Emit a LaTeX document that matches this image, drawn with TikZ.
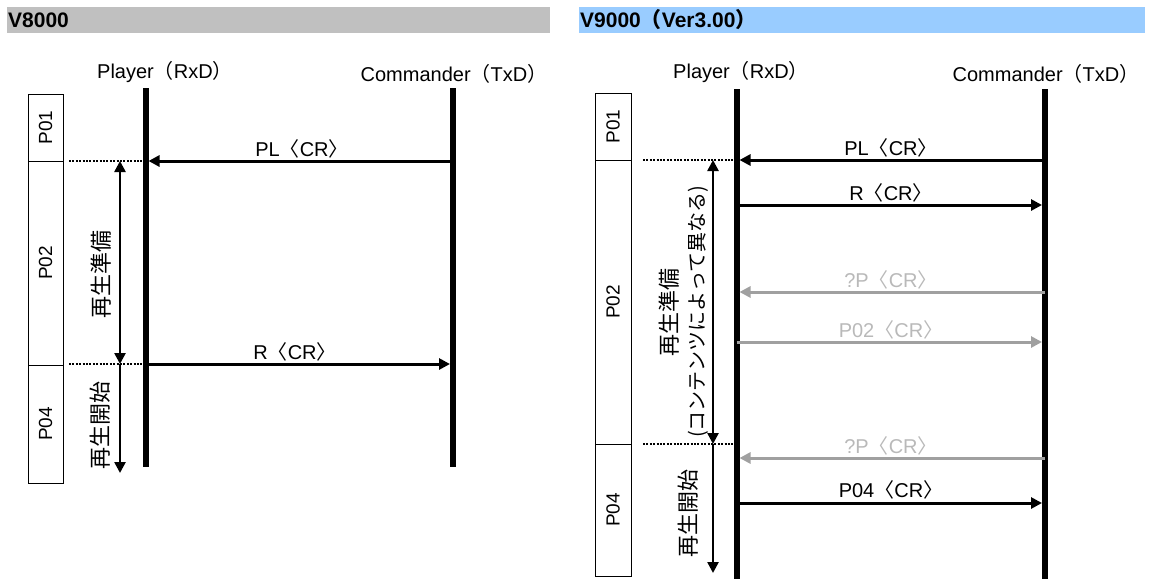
\documentclass[tikz,border=0pt]{standalone}
\usepackage{fontspec}
\setmainfont{Liberation Sans}
\newfontfamily\jp{Noto Sans CJK JP}
\usetikzlibrary{arrows.meta}
\definecolor{hdrgray}{RGB}{192,192,192}
\definecolor{hdrblue}{RGB}{153,204,255}
\definecolor{arrowgray}{RGB}{160,160,160}
\definecolor{textgray}{RGB}{185,185,185}
\newcommand\jlb{{\jp 〈}}
\newcommand\jrb{{\jp 〉}}
\newcommand\jlp{{\jp （}}
\newcommand\jrp{{\jp ）}}
\begin{document}
\begin{tikzpicture}[x=1pt,y=-1pt,
  life/.style={line width=6pt},
  msg/.style={line width=3pt,-{Triangle[length=11pt,width=11pt]}},
  gmsg/.style={msg,draw=arrowgray},
  lbl/.style={font=\fontsize{20}{22}\selectfont,anchor=base,inner sep=0pt},
  glbl/.style={lbl,text=textgray},
  actor/.style={font=\fontsize{20}{22}\selectfont,inner sep=0pt},
  phase/.style={draw,line width=1pt,rotate=90,minimum height=35pt,inner sep=0pt,font=\fontsize{19}{21}\selectfont},
  jlbl/.style={rotate=90,inner sep=0pt,align=center,font=\jp\fontsize{20}{27}\selectfont},
  dots/.style={line width=2pt,dash pattern=on 2pt off 1.4pt},
  spanarr/.style={line width=2.5pt,{Triangle[length=11pt,width=11pt]}-{Triangle[length=11pt,width=11pt]}},
  downarr/.style={line width=2.5pt,-{Triangle[length=11pt,width=11pt]}},
  hdr/.style={anchor=west,inner sep=0pt,font=\bfseries\fontsize{21}{23}\selectfont}
]
\useasboundingbox (0,0) rectangle (1150,579);

% ---------- headers ----------
\fill[hdrgray] (7,7) rectangle (550,33);
\node[hdr] (h1) at (8,20) {V8000};
\fill[hdrblue] (579,7) rectangle (1145,33);
\node[hdr] (h2) at (580,20) {V9000{\jp\bfseries （}Ver3.00{\jp\bfseries ）}};

% ================= LEFT (V8000) =================
\node[actor] (lpn) at (165,72) {Player\jlp RxD\jrp};
\node[actor] (lcn) at (454,74) {Commander\jlp TxD\jrp};
\coordinate (LPt) at (145.5,88);  \coordinate (LPb) at (145.5,467);
\coordinate (LCt) at (453,88);    \coordinate (LCb) at (453,467);
\draw[life] (LPt) -- (LPb);
\draw[life] (LCt) -- (LCb);

\node[phase,minimum width=67pt]  (lb1) at (45.5,127.5) {P01};
\node[phase,minimum width=204pt] (lb2) at (45.5,263) {P02};
\node[phase,minimum width=118pt] (lb4) at (45.5,424) {P04};

% messages
\coordinate (lm1a) at (453,161);   \coordinate (lm1b) at (148.5,161);
\draw[msg] (lm1a) -- (lm1b);
\node[lbl] (lm1t) at (302,156) {PL\jlb CR\jrb};
\coordinate (lm2a) at (145.5,364); \coordinate (lm2b) at (450,364);
\draw[msg] (lm2a) -- (lm2b);
\node[lbl] (lm2t) at (295,359) {R\jlb CR\jrb};

% dotted phase boundaries
\coordinate (ld1) at (69,161);  \coordinate (ld1e) at (142,161);
\coordinate (ld2) at (69,364);  \coordinate (ld2e) at (142,364);
\draw[dots] (ld1) -- (ld1e);
\draw[dots] (ld2) -- (ld2e);

% span arrows
\coordinate (ls1) at (120,161); \coordinate (ls2) at (120,364); \coordinate (ls3) at (120,473);
\draw[spanarr] (ls1) -- (ls2);
\draw[downarr] (ls2) -- (ls3);
\node[jlbl,font=\jp\fontsize{22}{27}\selectfont] (lj1) at (101,274) {再生準備};
\node[jlbl,font=\jp\fontsize{22}{27}\selectfont] (lj2) at (100,425) {再生開始};

% ================= RIGHT (V9000) =================
\node[actor] (rpn) at (741,72) {Player\jlp RxD\jrp};
\node[actor] (rcn) at (1046,74) {Commander\jlp TxD\jrp};
\coordinate (RPt) at (736.5,89);  \coordinate (RPb) at (736.5,579);
\coordinate (RCt) at (1045,89);   \coordinate (RCb) at (1045,579);
\draw[life] (RPt) -- (RPb);
\draw[life] (RCt) -- (RCb);

\node[phase,minimum width=67pt,minimum height=36pt]  (rb1) at (613,126.5) {P01};
\node[phase,minimum width=284pt,minimum height=36pt] (rb2) at (613,302) {P02};
\node[phase,minimum width=132pt,minimum height=36pt] (rb4) at (613,510) {P04};

% messages
\coordinate (rm1a) at (1045,160);  \coordinate (rm1b) at (739.5,160);
\draw[msg] (rm1a) -- (rm1b);
\node[lbl] (rm1t) at (891,155) {PL\jlb CR\jrb};

\coordinate (rm2a) at (736.5,205); \coordinate (rm2b) at (1042,205);
\draw[msg] (rm2a) -- (rm2b);
\node[lbl] (rm2t) at (891,200) {R\jlb CR\jrb};

\coordinate (rm3a) at (1045,292);  \coordinate (rm3b) at (739.5,292);
\draw[gmsg] (rm3a) -- (rm3b);
\node[glbl] (rm3t) at (891,287) {?P\jlb CR\jrb};

\coordinate (rm4a) at (736.5,342); \coordinate (rm4b) at (1042,342);
\draw[gmsg] (rm4a) -- (rm4b);
\node[glbl] (rm4t) at (891,337) {P02\jlb CR\jrb};

\coordinate (rm5a) at (1045,458);  \coordinate (rm5b) at (739.5,458);
\draw[gmsg] (rm5a) -- (rm5b);
\node[glbl] (rm5t) at (891,453) {?P\jlb CR\jrb};

\coordinate (rm6a) at (736.5,503); \coordinate (rm6b) at (1042,503);
\draw[msg] (rm6a) -- (rm6b);
\node[lbl] (rm6t) at (891,497) {P04\jlb CR\jrb};

% dotted phase boundaries
\coordinate (rd1) at (643,160);  \coordinate (rd1e) at (733,160);
\coordinate (rd2) at (643,444);  \coordinate (rd2e) at (733,444);
\draw[dots] (rd1) -- (rd1e);
\draw[dots] (rd2) -- (rd2e);

% span arrows
\coordinate (rs1) at (713,160); \coordinate (rs2) at (713,444); \coordinate (rs3) at (713,573);
\draw[spanarr] (rs1) -- (rs2);
\draw[downarr] (rs2) -- (rs3);
\node[jlbl] (rj1) at (684,312) {{\fontsize{22}{27}\selectfont 再生準備}\\(コンテンツによって異なる)};
\node[jlbl,font=\jp\fontsize{22}{27}\selectfont] (rj2) at (688,513) {再生開始};
\end{tikzpicture}
\end{document}
